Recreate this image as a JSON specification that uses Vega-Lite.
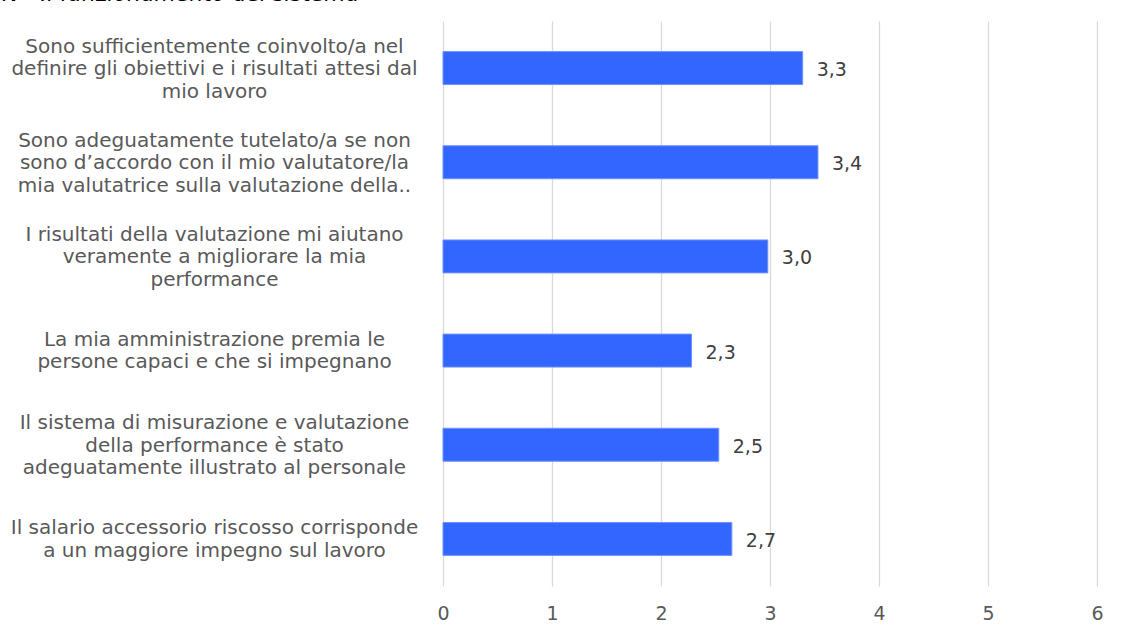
{
  "$schema": "https://vega.github.io/schema/vega-lite/v6.json",
  "width": 654,
  "height": 565,
  "autosize": {"type": "none"},
  "padding": {"left": 443, "top": 21, "right": 37, "bottom": 57},
  "background": "white",
  "title": {
    "text": "N - Il funzionamento del sistema",
    "anchor": "start",
    "frame": "bounds",
    "font": "DejaVu Sans",
    "fontSize": 22,
    "fontStyle": "italic",
    "fontWeight": "normal",
    "color": "#000000",
    "baseline": "alphabetic",
    "offset": -1.5,
    "dx": -8
  },
  "data": {
    "values": [
      {"order": 1, "question": "Sono sufficientemente coinvolto/a nel|definire gli obiettivi e i risultati attesi dal|mio lavoro", "value": 3.30, "label": "3,3"},
      {"order": 2, "question": "Sono adeguatamente tutelato/a se non|sono d’accordo con il mio valutatore/la|mia valutatrice sulla valutazione della..", "value": 3.44, "label": "3,4"},
      {"order": 3, "question": "I risultati della valutazione mi aiutano|veramente a migliorare la mia|performance", "value": 2.98, "label": "3,0"},
      {"order": 4, "question": "La mia amministrazione premia le|persone capaci e che si impegnano", "value": 2.28, "label": "2,3"},
      {"order": 5, "question": "Il sistema di misurazione e valutazione|della performance è stato|adeguatamente illustrato al personale", "value": 2.53, "label": "2,5"},
      {"order": 6, "question": "Il salario accessorio riscosso corrisponde|a un maggiore impegno sul lavoro", "value": 2.65, "label": "2,7"}
    ]
  },
  "encoding": {
    "y": {
      "field": "question",
      "type": "nominal",
      "sort": {"field": "order", "order": "ascending"},
      "scale": {"paddingInner": 0.65, "paddingOuter": 0.325},
      "axis": {
        "title": null,
        "domain": false,
        "ticks": false,
        "tickSize": 0,
        "grid": false,
        "labelAlign": "center",
        "labelBaseline": "middle",
        "labelPadding": 229,
        "labelFont": "DejaVu Sans",
        "labelFontSize": 20,
        "labelLineHeight": 22.5,
        "labelColor": "#595959",
        "labelLimit": 0,
        "labelExpr": "split(datum.label, '|')",
        "labelOffset": {
          "condition": {"test": "length(split(datum.label, '|')) == 3", "value": -21.5},
          "value": -10.75
        }
      }
    }
  },
  "layer": [
    {
      "mark": {"type": "bar", "color": "#3366FF", "stroke": "#6f93ff", "strokeWidth": 1},
      "encoding": {
        "x": {
          "field": "value",
          "type": "quantitative",
          "scale": {"domain": [0, 6], "nice": false},
          "axis": {
            "title": null,
            "values": [0, 1, 2, 3, 4, 5, 6],
            "format": "d",
            "domain": false,
            "ticks": false,
            "tickSize": 0,
            "grid": true,
            "gridColor": "#d9d9d9",
            "gridWidth": 1.3,
            "labelFont": "DejaVu Sans",
            "labelFontSize": 19,
            "labelColor": "#595959",
            "labelBaseline": "middle",
            "labelFlush": false,
            "labelPadding": 27
          }
        }
      }
    },
    {
      "mark": {"type": "text", "align": "left", "baseline": "middle", "dx": 14, "dy": 2, "font": "DejaVu Sans", "fontSize": 19, "color": "#404040"},
      "encoding": {
        "x": {"field": "value", "type": "quantitative"},
        "text": {"field": "label"}
      }
    }
  ],
  "config": {"view": {"stroke": null}}
}
